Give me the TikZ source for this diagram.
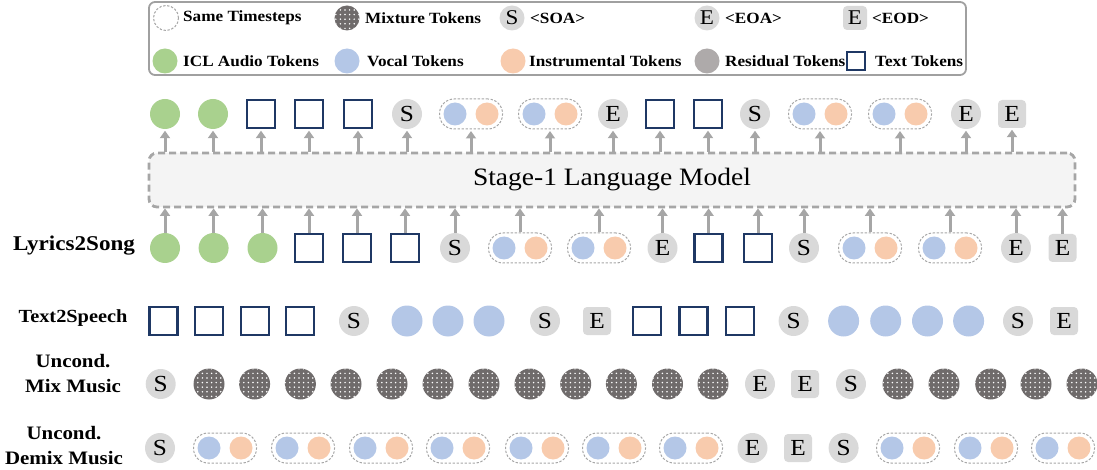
\documentclass[tikz,border=0pt]{standalone}
\usepackage{fontspec}
\setmainfont{Liberation Serif}[FakeStretch=1.1]
\usetikzlibrary{arrows.meta,patterns.meta}
\definecolor{iclgreen}{HTML}{A9D18E}
\definecolor{vocblue}{HTML}{B4C7E7}
\definecolor{instorange}{HTML}{F8CBAD}
\definecolor{seggray}{HTML}{D9D9D9}
\definecolor{resgray}{HTML}{AEAAAA}
\definecolor{mixgray}{HTML}{6F6B6B}
\definecolor{navy}{HTML}{1F3864}
\definecolor{arrgray}{HTML}{A6A6A6}
\definecolor{lmfill}{HTML}{F4F4F4}
\definecolor{leggray}{HTML}{A0A0A0}
\definecolor{pairgray}{HTML}{A6A6A6}
\newcommand\tokfont{\fontsize{23}{23}\selectfont}
\newcommand\legfont{\bfseries\fontsize{15.6}{15.6}\selectfont}
\tikzdeclarepattern{
  name=wdots,
  type=uncolored,
  bounding box={(-1pt,-1pt) and (1pt,1pt)},
  tile size={(4.6pt,4.6pt)},
  code={\pgfpathcircle{\pgfpointorigin}{0.85pt}\pgfusepath{fill}}
}
\tikzset{
  tok/.style={circle, inner sep=0pt, minimum size=30pt},
  icl/.style={tok, fill=iclgreen},
  voc/.style={tok, minimum size=31pt, fill=vocblue},
  inst/.style={tok, fill=instorange},
  resid/.style={tok, fill=resgray},
  mixt/.style={tok, minimum size=31pt, fill=mixgray, postaction={pattern=wdots, pattern color=white}},
  soa/.style={tok, fill=seggray, font=\tokfont, text=black},
  eod/.style={rectangle, rounded corners=4pt, minimum size=28pt, inner sep=0pt, fill=seggray, font=\tokfont},
  txt/.style={rectangle, draw=navy, line width=2.3pt, minimum size=28pt, inner sep=0pt},
  duo/.style={rectangle, rounded corners=14.5pt, minimum width=63pt, minimum height=30pt, inner sep=0pt,
    draw=pairgray, line width=1pt, dash pattern=on 2.4pt off 1.6pt,
    path picture={
      \fill[vocblue] ([xshift=-16pt]path picture bounding box.center) circle (11.5pt);
      \fill[instorange] ([xshift=16pt]path picture bounding box.center) circle (11.5pt);
    }},
  arr/.style={draw=arrgray, line width=3pt, -{Triangle[width=10pt,length=7.5pt]}},
  lmbox/.style={rectangle, draw=arrgray, line width=2.8pt, dash pattern=on 7pt off 4pt, fill=lmfill,
    rounded corners=8pt, minimum width=926pt, minimum height=54pt, font=\fontsize{25}{25}\selectfont},
  legtxt/.style={anchor=west, inner sep=0pt, font=\legfont},
  lab/.style={inner sep=0pt, align=center},
}
\begin{document}
\begin{tikzpicture}[x=1pt,y=-1pt]
\useasboundingbox (0,0) rectangle (1097,470);

% legend
\draw[leggray, line width=1.8pt, rounded corners=6pt] (149,2) rectangle (966,75);
\node[circle, minimum size=25pt, inner sep=0pt, draw=pairgray, line width=1pt, dash pattern=on 2.4pt off 1.6pt] (k1) at (166,18) {};
\node[legtxt] (k1t) at (183,18) {Same Timesteps};
\node[mixt, minimum size=25pt] (k2) at (347,18) {};
\node[legtxt] (k2t) at (365,18) {Mixture Tokens};
\node[soa, minimum size=25pt, font=\fontsize{21}{21}\selectfont] (k3) at (512,18) {S};
\node[legtxt] (k3t) at (530,18) {<SOA>};
\node[soa, minimum size=25pt, font=\fontsize{21}{21}\selectfont] (k4) at (707,18) {E};
\node[legtxt] (k4t) at (725,18) {<EOA>};
\node[eod, minimum size=24pt, font=\fontsize{21}{21}\selectfont] (k5) at (855,18) {E};
\node[legtxt] (k5t) at (872,18) {<EOD>};
\node[icl, minimum size=25pt] (k6) at (165,61) {};
\node[legtxt] (k6t) at (183,61) {ICL Audio Tokens};
\node[voc, minimum size=25pt] (k7) at (347,61) {};
\node[legtxt] (k7t) at (367,61) {Vocal Tokens};
\node[inst, minimum size=25pt] (k8) at (513,61) {};
\node[legtxt] (k8t) at (529,61) {Instrumental Tokens};
\node[resid, minimum size=25pt] (k9) at (707,61) {};
\node[legtxt] (k9t) at (725,61) {Residual Tokens};
\node[txt, minimum size=18pt, line width=1.8pt] (k10) at (856,61) {};
\node[legtxt] (k10t) at (875,61) {Text Tokens};

% language model
\node[lmbox] (lm) at (612,180) {Stage-1 Language Model};

% output row
\foreach \x/\t/\c [count=\i] in {165/icl/{},213/icl/{},261/txt/{},309/txt/{},358/txt/{},407/soa/S,471/duo/{},550/duo/{},613/soa/E,660/txt/{},708/txt/{},755/soa/S,820/duo/{},900/duo/{},966/soa/E,1012/eod/E}
  \node[\t] (a\i) at (\x,114) {\c};
\foreach \i in {1,...,16}
  \draw[arr, shorten >=1.5pt] (a\i |- lm.north) -- (a\i);

% Lyrics2Song row
\foreach \x/\t/\c [count=\i] in {165/icl/{},213.6/icl/{},262.5/icl/{},309/txt/{},357/txt/{},405/txt/{},455/soa/S,520/duo/{},599/duo/{},662.5/soa/E,708.6/txt/{},758/txt/{},804/soa/S,870/duo/{},950/duo/{},1016/soa/E,1062.5/eod/E}
  \node[\t] (b\i) at (\x,248) {\c};
\foreach \i in {1,...,17}
  \draw[arr] (b\i) -- (b\i |- lm.south);

% Text2Speech row
\foreach \x/\t/\c [count=\i] in {163.6/txt/{},209/txt/{},255/txt/{},300/txt/{},354/soa/S,407/voc/{},448/voc/{},489/voc/{},545/soa/S,597/eod/E,647/txt/{},693.6/txt/{},740/txt/{},793.6/soa/S,843.6/voc/{},885.7/voc/{},927.5/voc/{},968.6/voc/{},1018/soa/S,1064/eod/E}
  \node[\t] (c\i) at (\x,321) {\c};

% Uncond. Mix Music row
\foreach \x/\t/\c [count=\i] in {160.7/soa/S,209/mixt/{},254.6/mixt/{},300.4/mixt/{},346/mixt/{},392/mixt/{},438/mixt/{},484/mixt/{},530/mixt/{},575.7/mixt/{},621.4/mixt/{},667.5/mixt/{},713/mixt/{},760/soa/E,805/eod/E,851/soa/S,898/mixt/{},944/mixt/{},990.7/mixt/{},1036/mixt/{},1082/mixt/{}}
  \node[\t] (d\i) at (\x,384) {\c};

% Uncond. Demix Music row
\foreach \x/\t/\c [count=\i] in {160/soa/S,225/duo/{},303/duo/{},381/duo/{},458/duo/{},537/duo/{},614/duo/{},691/duo/{},752.5/soa/E,798/eod/E,843.6/soa/S,908/duo/{},986/duo/{},1063/duo/{}}
  \node[\t] (e\i) at (\x,448) {\c};

% row labels
\node[lab, font=\bfseries\fontsize{21}{21}\selectfont] (l1) at (74,246) {Lyrics2Song};
\node[lab, font=\bfseries\fontsize{18.5}{18.5}\selectfont] (l2) at (73,318) {Text2Speech};
\node[lab, font=\bfseries\fontsize{19}{25}\selectfont] (l3) at (73,374) {Uncond.\\Mix Music};
\node[lab, font=\bfseries\fontsize{19}{25}\selectfont] (l4) at (64,446) {Uncond.\\Demix Music};
\end{tikzpicture}
\end{document}
